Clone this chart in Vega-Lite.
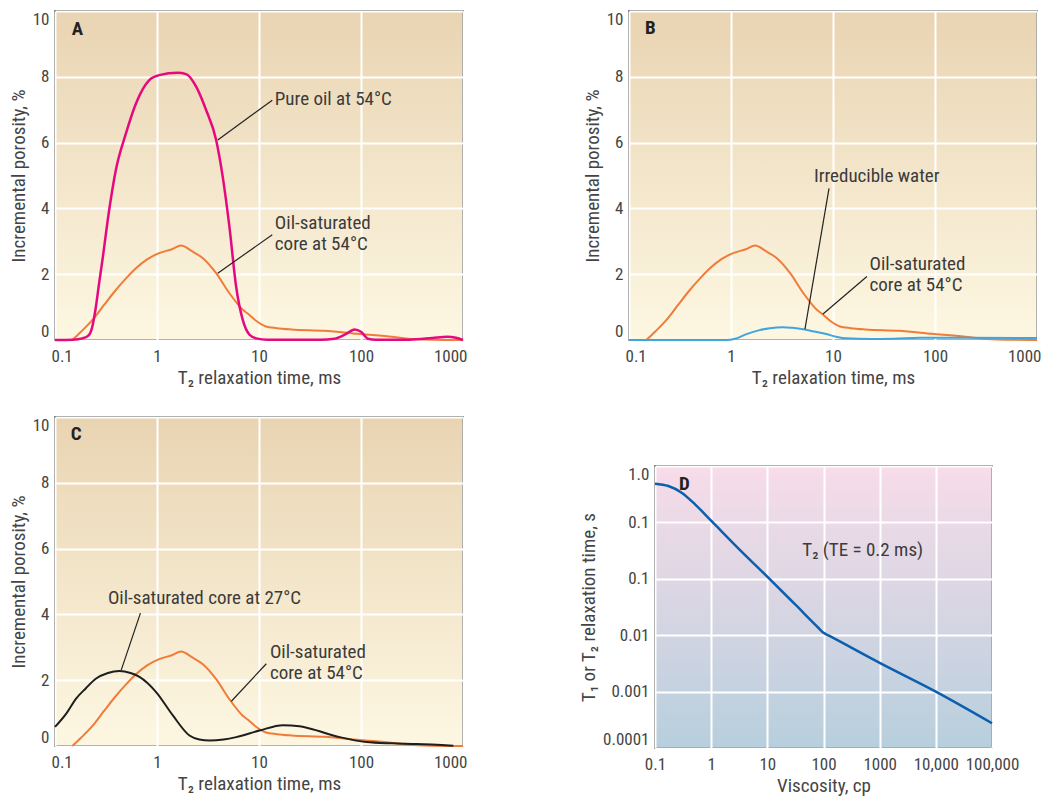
{
  "$schema": "https://vega.github.io/schema/vega-lite/v6.json",
  "background": "white",
  "padding": {"left": 8, "top": 9, "right": 3, "bottom": 3},
  "config": {
    "font": "Roboto Condensed, DejaVu Sans Condensed, sans-serif",
    "view": {"stroke": "#333333", "strokeWidth": 1.5},
    "axis": {"domain": false, "ticks": false, "grid": true, "gridColor": "#ffffff", "gridWidth": 2, "labelFontSize": 17, "labelColor": "#444444", "titleFontSize": 19, "titleFontWeight": "normal", "titleColor": "#444444", "labelPadding": 6, "titlePadding": 4, "labelOverlap": false},
    "axisX": {"labelPadding": 8},
    "text": {"fontSize": 19, "color": "#3b3b3b", "align": "left", "baseline": "middle", "lineHeight": 21},
    "rule": {"color": "#222222", "strokeWidth": 1.2},
    "line": {"interpolate": "monotone", "strokeWidth": 2}
  },
  "datasets": {
    "pureoil": [
      {"t2": 0.1, "phi": 0}, {"t2": 0.15, "phi": 0.01}, {"t2": 0.186, "phi": 0.05}, {"t2": 0.215, "phi": 0.15},
      {"t2": 0.232, "phi": 0.4}, {"t2": 0.25, "phi": 0.95}, {"t2": 0.27, "phi": 1.7}, {"t2": 0.292, "phi": 2.44},
      {"t2": 0.34, "phi": 3.96}, {"t2": 0.395, "phi": 5.17}, {"t2": 0.496, "phi": 6.28}, {"t2": 0.622, "phi": 7.19},
      {"t2": 0.84, "phi": 7.9}, {"t2": 1.05, "phi": 8.05}, {"t2": 1.59, "phi": 8.12}, {"t2": 1.93, "phi": 8.08},
      {"t2": 2.42, "phi": 7.7}, {"t2": 3.03, "phi": 6.99}, {"t2": 3.8, "phi": 6.08}, {"t2": 4.41, "phi": 4.96},
      {"t2": 5.13, "phi": 3.44}, {"t2": 5.97, "phi": 1.62}, {"t2": 6.93, "phi": 0.61}, {"t2": 8.07, "phi": 0.16},
      {"t2": 9.38, "phi": 0.05}, {"t2": 12, "phi": 0.01}, {"t2": 40, "phi": 0.01}, {"t2": 55, "phi": 0.04},
      {"t2": 70, "phi": 0.17}, {"t2": 86.7, "phi": 0.32}, {"t2": 100, "phi": 0.25}, {"t2": 117, "phi": 0.04},
      {"t2": 140, "phi": 0.01}, {"t2": 300, "phi": 0.01}, {"t2": 500, "phi": 0.06}, {"t2": 700, "phi": 0.1},
      {"t2": 850, "phi": 0.07}, {"t2": 1000, "phi": 0}
    ],
    "core54": [
      {"t2": 0.148, "phi": 0}, {"t2": 0.18, "phi": 0.25}, {"t2": 0.233, "phi": 0.61}, {"t2": 0.3, "phi": 1.05},
      {"t2": 0.395, "phi": 1.52}, {"t2": 0.5, "phi": 1.88}, {"t2": 0.622, "phi": 2.18}, {"t2": 0.8, "phi": 2.45},
      {"t2": 1.05, "phi": 2.64}, {"t2": 1.4, "phi": 2.76}, {"t2": 1.72, "phi": 2.87}, {"t2": 2.2, "phi": 2.7},
      {"t2": 2.8, "phi": 2.49}, {"t2": 3.8, "phi": 2.03}, {"t2": 5.13, "phi": 1.42}, {"t2": 6.93, "phi": 0.92},
      {"t2": 8, "phi": 0.77}, {"t2": 9.5, "phi": 0.57}, {"t2": 11.5, "phi": 0.42}, {"t2": 15, "phi": 0.36},
      {"t2": 20.7, "phi": 0.32}, {"t2": 44, "phi": 0.28}, {"t2": 93, "phi": 0.19}, {"t2": 198, "phi": 0.1},
      {"t2": 289, "phi": 0.04}, {"t2": 500, "phi": 0.01}, {"t2": 1000, "phi": 0}
    ],
    "water": [
      {"t2": 0.1, "phi": 0}, {"t2": 0.9, "phi": 0}, {"t2": 1.1, "phi": 0.04}, {"t2": 1.42, "phi": 0.18},
      {"t2": 1.9, "phi": 0.3}, {"t2": 2.4, "phi": 0.36}, {"t2": 3.24, "phi": 0.39}, {"t2": 4, "phi": 0.37},
      {"t2": 5.08, "phi": 0.33}, {"t2": 6.5, "phi": 0.26}, {"t2": 8.6, "phi": 0.18}, {"t2": 11, "phi": 0.09},
      {"t2": 13.5, "phi": 0.05}, {"t2": 23, "phi": 0.03}, {"t2": 40, "phi": 0.04}, {"t2": 71, "phi": 0.07},
      {"t2": 200, "phi": 0.07}, {"t2": 1000, "phi": 0.06}
    ],
    "core27": [
      {"t2": 0.1, "phi": 0.58}, {"t2": 0.13, "phi": 1.0}, {"t2": 0.161, "phi": 1.44}, {"t2": 0.2, "phi": 1.75},
      {"t2": 0.253, "phi": 2.05}, {"t2": 0.33, "phi": 2.22}, {"t2": 0.428, "phi": 2.28}, {"t2": 0.55, "phi": 2.22},
      {"t2": 0.673, "phi": 2.1}, {"t2": 0.98, "phi": 1.64}, {"t2": 1.43, "phi": 0.93}, {"t2": 2.08, "phi": 0.32},
      {"t2": 2.6, "phi": 0.2}, {"t2": 3.28, "phi": 0.17}, {"t2": 4.5, "phi": 0.2}, {"t2": 5.98, "phi": 0.27},
      {"t2": 10.1, "phi": 0.47}, {"t2": 17.2, "phi": 0.63}, {"t2": 25, "phi": 0.6}, {"t2": 31.4, "phi": 0.53},
      {"t2": 61.9, "phi": 0.27}, {"t2": 113, "phi": 0.12}, {"t2": 200, "phi": 0.08}, {"t2": 351, "phi": 0.06},
      {"t2": 804, "phi": 0.01}
    ],
    "viscosity": [
      {"visc": 0.1, "t": 4.85}, {"visc": 0.173, "t": 4.41}, {"visc": 0.298, "t": 3.36}, {"visc": 0.516, "t": 2.09},
      {"visc": 1.02, "t": 1.05}, {"visc": 3.2, "t": 0.33}, {"visc": 10.5, "t": 0.104}, {"visc": 31.6, "t": 0.0347},
      {"visc": 80, "t": 0.0137}, {"visc": 100, "t": 0.011}, {"visc": 125, "t": 0.0098},
      {"visc": 1020, "t": 0.0032}, {"visc": 9800, "t": 0.00101}, {"visc": 100000, "t": 0.000275}
    ]
  },
  "spacing": 27,
  "vconcat": [
    {
      "spacing": 113,
      "hconcat": [
        {
          "width": 408, "height": 329,
          "view": {"fill": {"gradient": "linear", "x1": 0, "y1": 0, "x2": 0, "y2": 1, "stops": [{"offset": 0, "color": "#e9d4b2"}, {"offset": 1, "color": "#fdf7e2"}]}},
          "layer": [
            {"data": {"name": "core54"}, "mark": {"type": "line", "color": "#f07c3a"},
             "encoding": {
               "x": {"field": "t2", "type": "quantitative", "scale": {"type": "log", "domain": [0.1, 1000], "nice": false},
                     "axis": {"values": [0.1, 1, 10, 100, 1000], "labelExpr": "format(datum.value, '~g')", "title": "T₂ relaxation time, ms", "labelFlush": true, "labelFlushOffset": 4}},
               "y": {"field": "phi", "type": "quantitative", "scale": {"domain": [0, 10], "nice": false},
                     "axis": {"values": [0, 2, 4, 6, 8, 10], "title": "Incremental porosity, %", "labelFlush": true}}}},
            {"data": {"name": "pureoil"}, "mark": {"type": "line", "color": "#e5087f", "strokeWidth": 2.5},
             "encoding": {"x": {"field": "t2", "type": "quantitative"}, "y": {"field": "phi", "type": "quantitative"}}},
            {"data": {"values": [{}]}, "mark": {"type": "rule"},
             "encoding": {"x": {"datum": 13.5, "type": "quantitative"}, "y": {"datum": 7.29, "type": "quantitative"}, "x2": {"datum": 3.94}, "y2": {"datum": 6.08}}},
            {"data": {"values": [{}]}, "mark": {"type": "rule"},
             "encoding": {"x": {"datum": 13.5, "type": "quantitative"}, "y": {"datum": 3.2, "type": "quantitative"}, "x2": {"datum": 3.94}, "y2": {"datum": 2.03}}},
            {"data": {"values": [{}]}, "mark": {"type": "text", "text": "Pure oil at 54°C"},
             "encoding": {"x": {"datum": 14.3, "type": "quantitative"}, "y": {"datum": 7.32, "type": "quantitative"}}},
            {"data": {"values": [{}]}, "mark": {"type": "text", "text": ["Oil-saturated", "core at 54°C"]},
             "encoding": {"x": {"datum": 14.3, "type": "quantitative"}, "y": {"datum": 3.565, "type": "quantitative"}}},
            {"data": {"values": [{}]}, "mark": {"type": "text", "text": "A", "fontWeight": "bold", "align": "center", "color": "#222222"},
             "encoding": {"x": {"datum": 0.166, "type": "quantitative"}, "y": {"datum": 9.45, "type": "quantitative"}}}
          ]
        },
        {
          "width": 408, "height": 329,
          "view": {"fill": {"gradient": "linear", "x1": 0, "y1": 0, "x2": 0, "y2": 1, "stops": [{"offset": 0, "color": "#e9d4b2"}, {"offset": 1, "color": "#fdf7e2"}]}},
          "layer": [
            {"data": {"name": "core54"}, "mark": {"type": "line", "color": "#f07c3a"},
             "encoding": {
               "x": {"field": "t2", "type": "quantitative", "scale": {"type": "log", "domain": [0.1, 1000], "nice": false},
                     "axis": {"values": [0.1, 1, 10, 100, 1000], "labelExpr": "format(datum.value, '~g')", "title": "T₂ relaxation time, ms", "labelFlush": true, "labelFlushOffset": 4}},
               "y": {"field": "phi", "type": "quantitative", "scale": {"domain": [0, 10], "nice": false},
                     "axis": {"values": [0, 2, 4, 6, 8, 10], "title": "Incremental porosity, %", "labelFlush": true}}}},
            {"data": {"name": "water"}, "mark": {"type": "line", "color": "#3fa6dd"},
             "encoding": {"x": {"field": "t2", "type": "quantitative"}, "y": {"field": "phi", "type": "quantitative"}}},
            {"data": {"values": [{}]}, "mark": {"type": "rule"},
             "encoding": {"x": {"datum": 9.14, "type": "quantitative"}, "y": {"datum": 4.61, "type": "quantitative"}, "x2": {"datum": 5.31}, "y2": {"datum": 0.33}}},
            {"data": {"values": [{}]}, "mark": {"type": "rule"},
             "encoding": {"x": {"datum": 21.5, "type": "quantitative"}, "y": {"datum": 1.93, "type": "quantitative"}, "x2": {"datum": 7.98}, "y2": {"datum": 0.79}}},
            {"data": {"values": [{}]}, "mark": {"type": "text", "text": "Irreducible water"},
             "encoding": {"x": {"datum": 6.5, "type": "quantitative"}, "y": {"datum": 4.97, "type": "quantitative"}}},
            {"data": {"values": [{}]}, "mark": {"type": "text", "text": ["Oil-saturated", "core at 54°C"]},
             "encoding": {"x": {"datum": 22.8, "type": "quantitative"}, "y": {"datum": 2.32, "type": "quantitative"}}},
            {"data": {"values": [{}]}, "mark": {"type": "text", "text": "B", "fontWeight": "bold", "align": "center", "color": "#222222"},
             "encoding": {"x": {"datum": 0.162, "type": "quantitative"}, "y": {"datum": 9.47, "type": "quantitative"}}}
          ]
        }
      ]
    },
    {
      "spacing": 110,
      "hconcat": [
        {
          "width": 408, "height": 329,
          "view": {"fill": {"gradient": "linear", "x1": 0, "y1": 0, "x2": 0, "y2": 1, "stops": [{"offset": 0, "color": "#e9d4b2"}, {"offset": 1, "color": "#fdf7e2"}]}},
          "layer": [
            {"data": {"name": "core54"}, "mark": {"type": "line", "color": "#f07c3a"},
             "encoding": {
               "x": {"field": "t2", "type": "quantitative", "scale": {"type": "log", "domain": [0.1, 1000], "nice": false},
                     "axis": {"values": [0.1, 1, 10, 100, 1000], "labelExpr": "format(datum.value, '~g')", "title": "T₂ relaxation time, ms", "labelFlush": true, "labelFlushOffset": 4}},
               "y": {"field": "phi", "type": "quantitative", "scale": {"domain": [0, 10], "nice": false},
                     "axis": {"values": [0, 2, 4, 6, 8, 10], "title": "Incremental porosity, %", "labelFlush": true}}}},
            {"data": {"name": "core27"}, "mark": {"type": "line", "color": "#1e1e1e"},
             "encoding": {"x": {"field": "t2", "type": "quantitative"}, "y": {"field": "phi", "type": "quantitative"}}},
            {"data": {"values": [{}]}, "mark": {"type": "rule"},
             "encoding": {"x": {"datum": 0.688, "type": "quantitative"}, "y": {"datum": 4.04, "type": "quantitative"}, "x2": {"datum": 0.445}, "y2": {"datum": 2.3}}},
            {"data": {"values": [{}]}, "mark": {"type": "rule"},
             "encoding": {"x": {"datum": 11.8, "type": "quantitative"}, "y": {"datum": 2.5, "type": "quantitative"}, "x2": {"datum": 5.36}, "y2": {"datum": 1.36}}},
            {"data": {"values": [{}]}, "mark": {"type": "text", "text": "Oil-saturated core at 27°C"},
             "encoding": {"x": {"datum": 0.33, "type": "quantitative"}, "y": {"datum": 4.5, "type": "quantitative"}}},
            {"data": {"values": [{}]}, "mark": {"type": "text", "text": ["Oil-saturated", "core at 54°C"]},
             "encoding": {"x": {"datum": 12.8, "type": "quantitative"}, "y": {"datum": 2.87, "type": "quantitative"}}},
            {"data": {"values": [{}]}, "mark": {"type": "text", "text": "C", "fontWeight": "bold", "align": "center", "color": "#222222"},
             "encoding": {"x": {"datum": 0.161, "type": "quantitative"}, "y": {"datum": 9.49, "type": "quantitative"}}}
          ]
        },
        {
          "spacing": 0,
          "vconcat": [
            {"width": 337, "height": 47, "data": {"values": []}, "mark": {"type": "point"}, "encoding": {}, "view": {"stroke": null, "fill": null}},
            {
              "width": 337, "height": 282,
              "view": {"fill": {"gradient": "linear", "x1": 0, "y1": 0, "x2": 0, "y2": 1, "stops": [{"offset": 0, "color": "#f8dce9"}, {"offset": 1, "color": "#b7cfdd"}]}},
              "layer": [
                {"data": {"name": "viscosity"}, "mark": {"type": "line", "color": "#0b5fae", "strokeWidth": 2.5},
                 "encoding": {
                   "x": {"field": "visc", "type": "quantitative", "scale": {"type": "log", "domain": [0.1, 100000], "nice": false},
                         "axis": {"values": [0.1, 1, 10, 100, 1000, 10000, 100000], "labelExpr": "datum.value >= 10000 ? format(datum.value, ',') : format(datum.value, '~g')", "title": "Viscosity, cp", "labelFlush": false}},
                   "y": {"field": "t", "type": "quantitative", "scale": {"type": "log", "domain": [0.0001, 10], "nice": false},
                         "axis": {"values": [10, 1, 0.1, 0.01, 0.001, 0.0001], "labelExpr": "datum.value == 10 ? '1.0' : datum.value == 1 ? '0.1' : format(datum.value, '~g')", "title": "T₁ or T₂ relaxation time, s", "labelFlush": true}}}},
                {"data": {"values": [{}]}, "mark": {"type": "text", "text": "T₂ (TE = 0.2 ms)"},
                 "encoding": {"x": {"datum": 42, "type": "quantitative"}, "y": {"datum": 0.329, "type": "quantitative"}}},
                {"data": {"values": [{}]}, "mark": {"type": "text", "text": "D", "fontWeight": "bold", "align": "center", "color": "#222222"},
                 "encoding": {"x": {"datum": 0.333, "type": "quantitative"}, "y": {"datum": 4.85, "type": "quantitative"}}}
              ]
            }
          ]
        }
      ]
    }
  ]
}
